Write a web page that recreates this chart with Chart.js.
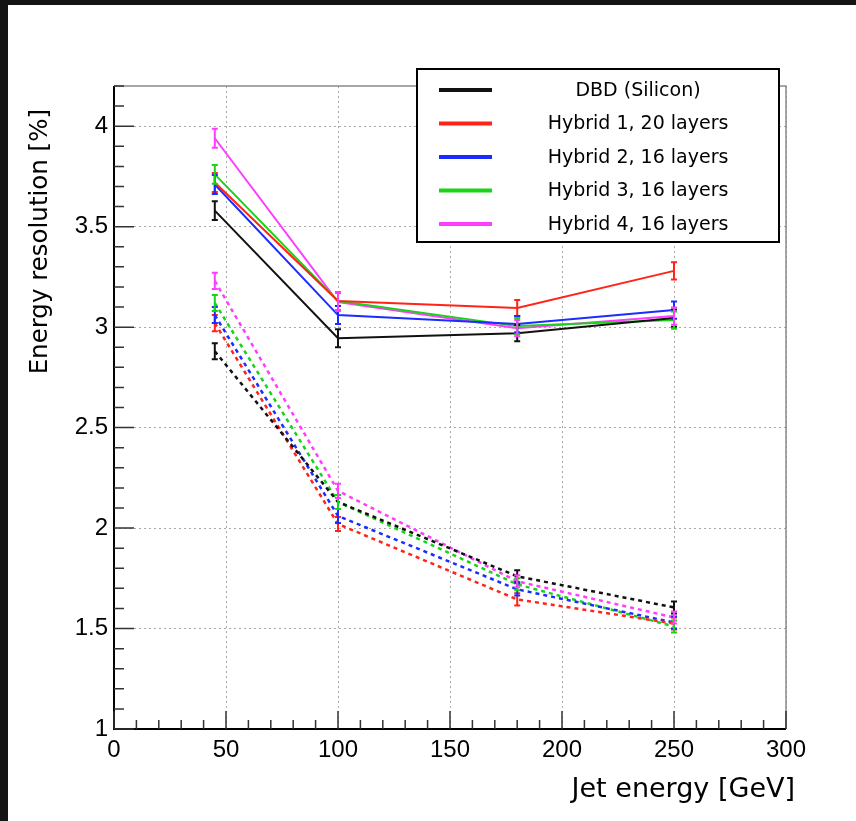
<!DOCTYPE html>
<html>
<head>
<meta charset="utf-8">
<script src="https://cdn.jsdelivr.net/npm/chart.js@4.4.0/dist/chart.umd.min.js"></script>
<style>
  html, body { margin: 0; padding: 0; background: #fff; }
  #wrap { width: 848px; height: 816px; border-top: 5px solid #141414; border-left: 8px solid #141414; background: #fff; }
</style>
</head>
<body>
<div id="wrap"><canvas id="chart" width="848" height="816"></canvas></div>
<script>
// jet energies [GeV]
const energies = [45, 100, 180, 250];

// solid curves
const dbdSolid   = [3.58, 2.945, 2.97, 3.045];
const hyb1Solid  = [3.72, 3.13, 3.095, 3.28];
const hyb2Solid  = [3.71, 3.06, 3.015, 3.085];
const hyb3Solid  = [3.76, 3.13, 3.005, 3.035];
const hyb4Solid  = [3.94, 3.125, 2.995, 3.055];
const solidErr   = [0.047, 0.045, 0.04, 0.043];

// dashed curves
const dbdDash    = [2.88, 2.13, 1.76, 1.605];
const hyb1Dash   = [3.02, 2.02, 1.645, 1.525];
const hyb2Dash   = [3.06, 2.06, 1.695, 1.53];
const hyb3Dash   = [3.12, 2.13, 1.72, 1.51];
const hyb4Dash   = [3.23, 2.185, 1.735, 1.555];
const dashErr    = [0.04, 0.035, 0.03, 0.03];

const labels = ["DBD (Silicon)", "Hybrid 1, 20 layers", "Hybrid 2, 16 layers", "Hybrid 3, 16 layers", "Hybrid 4, 16 layers"];
const colors = ["#111111", "#ff2318", "#1a2cff", "#18d418", "#ff3cff"];

const xTicks = [0, 50, 100, 150, 200, 250, 300];
const yTicks = [1, 1.5, 2, 2.5, 3, 3.5, 4];

const solidSeries = [dbdSolid, hyb1Solid, hyb2Solid, hyb3Solid, hyb4Solid];
const dashSeries = [dbdDash, hyb1Dash, hyb2Dash, hyb3Dash, hyb4Dash];

function points(vals) {
  return energies.map((x, i) => ({ x: x, y: vals[i] }));
}

const datasets = [];
dashSeries.forEach((s, i) => {
  datasets.push({ label: labels[i] + " (dashed)", data: points(s), err: dashErr,
    borderColor: colors[i], borderWidth: 2.5, borderDash: [4, 4], pointRadius: 0, fill: false, tension: 0 });
});
solidSeries.forEach((s, i) => {
  datasets.push({ label: labels[i], data: points(s), err: solidErr,
    borderColor: colors[i], borderWidth: 2, pointRadius: 0, fill: false, tension: 0 });
});

// error bars with small caps
const errorBars = {
  id: "errorBars",
  afterDatasetsDraw(chart) {
    const ctx = chart.ctx, y = chart.scales.y;
    chart.data.datasets.forEach((ds, di) => {
      const meta = chart.getDatasetMeta(di);
      ctx.save();
      ctx.strokeStyle = ds.borderColor;
      ctx.lineWidth = 2;
      meta.data.forEach((pt, i) => {
        const v = ds.data[i].y, e = ds.err[i];
        const top = y.getPixelForValue(v + e), bot = y.getPixelForValue(v - e);
        ctx.beginPath();
        ctx.moveTo(pt.x, top); ctx.lineTo(pt.x, bot);
        ctx.moveTo(pt.x - 3, top); ctx.lineTo(pt.x + 3, top);
        ctx.moveTo(pt.x - 3, bot); ctx.lineTo(pt.x + 3, bot);
        ctx.stroke();
      });
      ctx.restore();
    });
  }
};

// frame, inward ticks, legend and axis titles
const decorations = {
  id: "decorations",
  afterDraw(chart) {
    const ctx = chart.ctx, a = chart.chartArea;
    const xs = chart.scales.x, ys = chart.scales.y;
    ctx.save();
    // top / right frame
    ctx.strokeStyle = "#8a8a8a";
    ctx.lineWidth = 1.5;
    ctx.beginPath();
    ctx.moveTo(a.left, a.top); ctx.lineTo(a.right, a.top); ctx.lineTo(a.right, a.bottom);
    ctx.stroke();
    // axes
    ctx.strokeStyle = "#000";
    ctx.lineWidth = 2;
    ctx.beginPath();
    ctx.moveTo(a.left, a.top); ctx.lineTo(a.left, a.bottom); ctx.lineTo(a.right, a.bottom);
    ctx.stroke();
    // ticks
    ctx.lineWidth = 1.5;
    ctx.strokeStyle = "#333";
    ctx.beginPath();
    for (let v = 0; v <= 300; v += 10) {
      const px = xs.getPixelForValue(v);
      const len = v % 50 === 0 ? 18 : 9;
      ctx.moveTo(px, a.bottom); ctx.lineTo(px, a.bottom - len);
    }
    for (let k = 10; k <= 42; k++) {
      const py = ys.getPixelForValue(k / 10);
      const len = k % 5 === 0 ? 20 : 10;
      ctx.moveTo(a.left, py); ctx.lineTo(a.left + len, py);
    }
    ctx.stroke();

    // legend
    const lx = 409, ly = 64, lw = 362, lh = 173;
    ctx.fillStyle = "#fff";
    ctx.fillRect(lx, ly, lw, lh);
    ctx.strokeStyle = "#000";
    ctx.lineWidth = 2;
    ctx.strokeRect(lx, ly, lw, lh);
    ctx.font = '19px "DejaVu Sans", sans-serif';
    ctx.textAlign = "center";
    ctx.textBaseline = "middle";
    labels.forEach((t, i) => {
      const yy = 85 + i * 33.5;
      ctx.strokeStyle = colors[i];
      ctx.lineWidth = 4;
      ctx.beginPath();
      ctx.moveTo(431, yy); ctx.lineTo(484, yy);
      ctx.stroke();
      ctx.fillStyle = "#000";
      ctx.fillText(t, 630, yy + 1);
    });

    // axis titles
    ctx.font = '27px "DejaVu Sans", sans-serif';
    ctx.textAlign = "right";
    ctx.fillText("Jet energy [GeV]", 787, 785);
    ctx.font = '24.5px "DejaVu Sans", sans-serif';
    ctx.translate(33, 104);
    ctx.rotate(-Math.PI / 2);
    ctx.textAlign = "right";
    ctx.fillText("Energy resolution [%]", 0, 0);
    ctx.restore();
  }
};

const tickFont = { family: '"Liberation Sans", Arial, sans-serif', size: 24 };

new Chart(document.getElementById("chart"), {
  type: "line",
  data: { datasets: datasets },
  options: {
    responsive: false,
    animation: false,
    devicePixelRatio: 1,
    layout: { padding: { left: 0, top: 81, right: 70, bottom: 0 } },
    plugins: { legend: { display: false }, tooltip: { enabled: false } },
    scales: {
      x: {
        type: "linear", min: 0, max: 300,
        afterFit: s => { s.height = 92; },
        afterBuildTicks: s => { s.ticks = xTicks.map(v => ({ value: v })); },
        ticks: { font: tickFont, color: "#000", padding: 7, maxRotation: 0, autoSkip: false },
        grid: { color: "#a8a8a8", lineWidth: 1, drawTicks: false },
        border: { display: false, dash: [2, 3] }
      },
      y: {
        type: "linear", min: 1, max: 4.2,
        afterFit: s => { s.width = 106; },
        afterBuildTicks: s => { s.ticks = yTicks.map(v => ({ value: v })); },
        ticks: { font: tickFont, color: "#000", padding: 6, autoSkip: false, callback: v => String(v) },
        grid: { color: "#a8a8a8", lineWidth: 1, drawTicks: false },
        border: { display: false, dash: [2, 3] }
      }
    }
  },
  plugins: [errorBars, decorations]
});
</script>
</body>
</html>
